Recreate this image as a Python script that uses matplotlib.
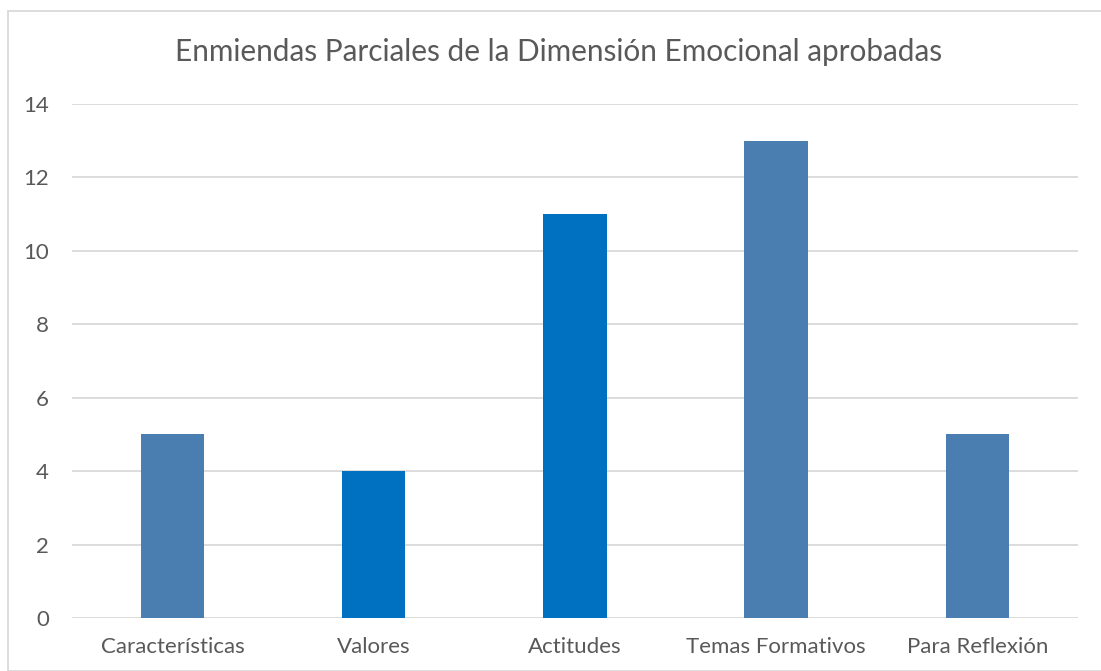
import matplotlib
matplotlib.use("Agg")
from matplotlib import pyplot as plt
from matplotlib.patches import Rectangle

categorias = ["Características", "Valores", "Actitudes", "Temas Formativos", "Para Reflexión"]
valores = [5, 4, 11, 13, 5]
colores = ["#4a7eb0", "#0070c0", "#0070c0", "#4a7eb0", "#4a7eb0"]
yticks = [0, 2, 4, 6, 8, 10, 12, 14]

plt.rcParams['font.family'] = ['Lato', 'DejaVu Sans']

fig = plt.figure(figsize=(11.01, 6.71), dpi=100)
ax = fig.add_axes([0.0654, 0.079, 0.9136, 0.766])

x = range(len(categorias))
ax.bar(x, valores, width=0.315, color=colores, zorder=3)
ax.set_xlim(-0.5, len(categorias) - 0.5)
ax.set_ylim(0, 14)
ax.set_yticks(yticks)
ax.set_xticks(list(x))
ax.set_xticklabels(categorias)
ax.grid(axis='y', color='#d9d9d9', linewidth=1.3, zorder=0)
for s in ax.spines.values():
    s.set_visible(False)
ax.tick_params(length=0, labelsize=16, colors='#595959')
ax.tick_params(axis='x', pad=14)
ax.tick_params(axis='y', pad=16.5)

fig.text(0.507, 0.922, "Enmiendas Parciales de la Dimensión Emocional aprobadas",
         ha='center', va='center', fontsize=21.4, color='#595959')

# chart border
fig.patches.append(Rectangle((8 / 1101, 0.0), 1.0, 1 - 11 / 671, transform=fig.transFigure,
                             fill=False, edgecolor='#d9d9d9', linewidth=1.3))

fig.savefig("out.png", dpi=100)
